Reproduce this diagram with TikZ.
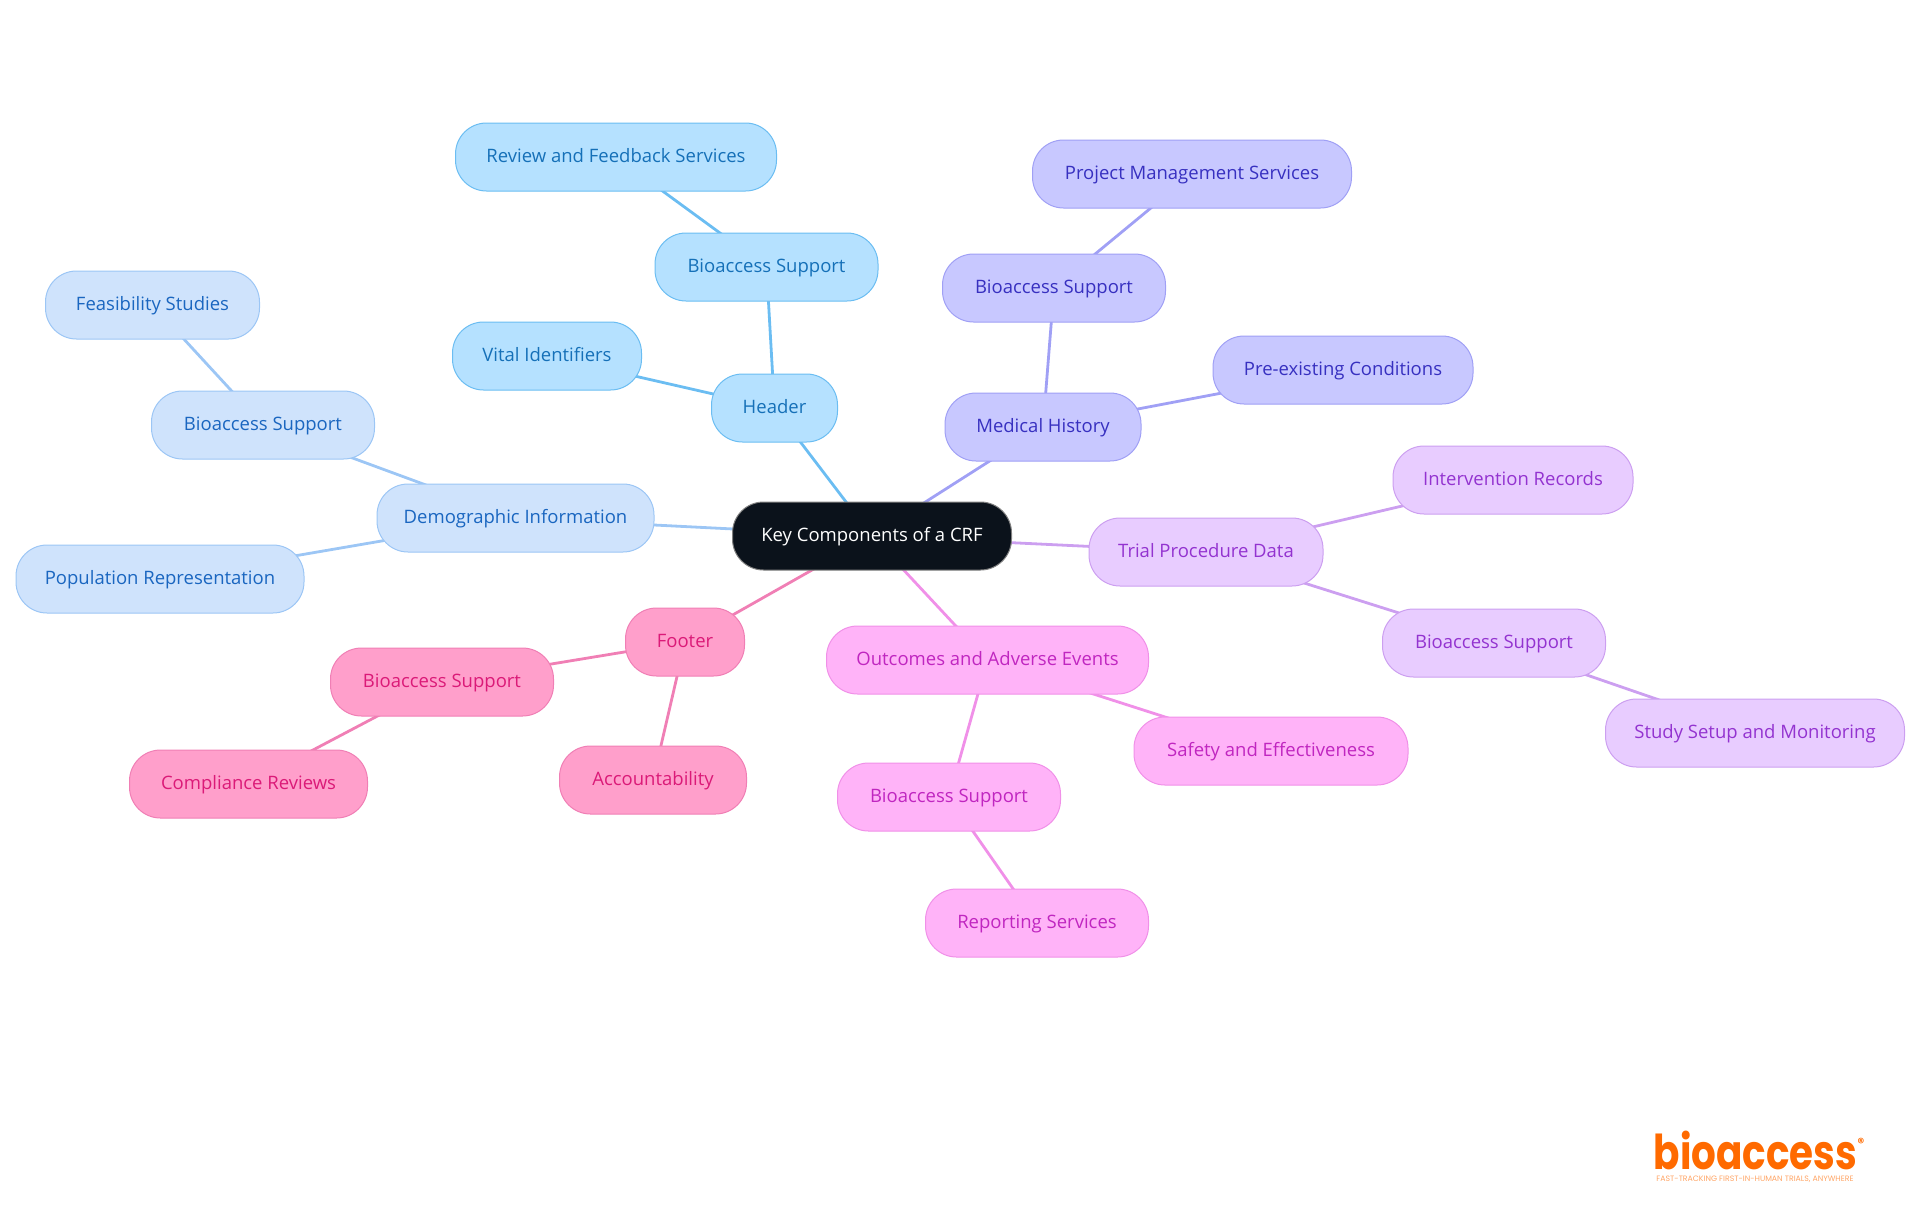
\documentclass[tikz,border=0pt]{standalone}
\usepackage{fontspec}
\usetikzlibrary{backgrounds}
\setmainfont{Open Sans}
\newfontfamily\logofont{Poppins}
\definecolor{rootfill}{HTML}{0B121B}
\definecolor{headfill}{HTML}{B5E1FF}
\definecolor{headline}{HTML}{6BBDF2}
\definecolor{headtext}{HTML}{1570B8}
\definecolor{demofill}{HTML}{CFE3FC}
\definecolor{demoline}{HTML}{9CC6F5}
\definecolor{demotext}{HTML}{1A66C0}
\definecolor{medfill}{HTML}{C8C8FF}
\definecolor{medline}{HTML}{A0A0F5}
\definecolor{medtext}{HTML}{3730C0}
\definecolor{trialfill}{HTML}{E8CCFF}
\definecolor{trialline}{HTML}{CC9FF0}
\definecolor{trialtext}{HTML}{9333D0}
\definecolor{eventfill}{HTML}{FFB3F8}
\definecolor{eventline}{HTML}{F090E8}
\definecolor{eventtext}{HTML}{C026C0}
\definecolor{footfill}{HTML}{FF9FCB}
\definecolor{footline}{HTML}{F07FB5}
\definecolor{foottext}{HTML}{DB1A78}
\definecolor{logoorange}{HTML}{FF6A00}
\tikzset{
  box/.style={rounded corners=15.5pt,minimum height=34pt,inner sep=0pt,line width=0.5pt,text height=7pt,text depth=2pt,font=\fontsize{9.25}{11}\selectfont},
  wide/.style={minimum width=#1*0.5pt},
  headbox/.style={box,draw=headline,fill=headfill,text=headtext},
  demobox/.style={box,draw=demoline,fill=demofill,text=demotext},
  medbox/.style={box,draw=medline,fill=medfill,text=medtext},
  trialbox/.style={box,draw=trialline,fill=trialfill,text=trialtext},
  eventbox/.style={box,draw=eventline,fill=eventfill,text=eventtext},
  footbox/.style={box,draw=footline,fill=footfill,text=foottext},
  branch/.style={line width=1.4pt},
}
\begin{document}
\begin{tikzpicture}[x=0.5pt,y=-0.5pt]
\useasboundingbox (0,0) rectangle (1920,1215);

\node[box,wide=279,fill=rootfill,draw=gray,text=white](Root) at (872,536){Key Components of a CRF};

\node[headbox,wide=126](Header) at (774.5,408){Header};
\node[headbox,wide=223](HeadBio) at (766.5,267){Bioaccess Support};
\node[headbox,wide=321](Review) at (616,157){Review and Feedback Services};
\node[headbox,wide=189](Vital) at (547,356){Vital Identifiers};

\node[demobox,wide=277](Demo) at (515.5,518){Demographic Information};
\node[demobox,wide=223](DemoBio) at (263,425){Bioaccess Support};
\node[demobox,wide=214](Feas) at (152.5,305){Feasibility Studies};
\node[demobox,wide=288](Popul) at (160,579){Population Representation};

\node[medbox,wide=196](Medical) at (1043,427){Medical History};
\node[medbox,wide=223](MedBio) at (1054,288){Bioaccess Support};
\node[medbox,wide=319](Project) at (1192,174){Project Management Services};
\node[medbox,wide=260](Exist) at (1343,370){Pre-existing Conditions};

\node[trialbox,wide=234](Trial) at (1206,552){Trial Procedure Data};
\node[trialbox,wide=240](Interv) at (1513,480){Intervention Records};
\node[trialbox,wide=223](TrialBio) at (1494,643){Bioaccess Support};
\node[trialbox,wide=299](Study) at (1755,733){Study Setup and Monitoring};

\node[eventbox,wide=322](Outcome) at (987.5,660){Outcomes and Adverse Events};
\node[eventbox,wide=274](Safety) at (1271,751){Safety and Effectiveness};
\node[eventbox,wide=223](OutBio) at (949,797){Bioaccess Support};
\node[eventbox,wide=223](Report) at (1037,923){Reporting Services};

\node[footbox,wide=119](Footer) at (685,642){Footer};
\node[footbox,wide=223](FootBio) at (442,682){Bioaccess Support};
\node[footbox,wide=238](Compl) at (248.5,784){Compliance Reviews};
\node[footbox,wide=187](Account) at (653,780){Accountability};

% branches, behind the boxes
\begin{pgfonlayer}{background}
\draw[branch,headline] (Root.center)--(Header.center);
\draw[branch,headline] (Header.center)--(HeadBio.center);
\draw[branch,headline] (HeadBio.center)--(Review.center);
\draw[branch,headline] (Header.center)--(Vital.center);

\draw[branch,demoline] (Root.center)--(Demo.center);
\draw[branch,demoline] (Demo.center)--(DemoBio.center);
\draw[branch,demoline] (DemoBio.center)--(Feas.center);
\draw[branch,demoline] (Demo.center)--(Popul.center);

\draw[branch,medline] (Root.center)--(Medical.center);
\draw[branch,medline] (Medical.center)--(MedBio.center);
\draw[branch,medline] (MedBio.center)--(Project.center);
\draw[branch,medline] (Medical.center)--(Exist.center);

\draw[branch,trialline] (Root.center)--(Trial.center);
\draw[branch,trialline] (Trial.center)--(Interv.center);
\draw[branch,trialline] (Trial.center)--(TrialBio.center);
\draw[branch,trialline] (TrialBio.center)--(Study.center);

\draw[branch,eventline] (Root.center)--(Outcome.center);
\draw[branch,eventline] (Outcome.center)--(Safety.center);
\draw[branch,eventline] (Outcome.center)--(OutBio.center);
\draw[branch,eventline] (OutBio.center)--(Report.center);

\draw[branch,footline] (Root.center)--(Footer.center);
\draw[branch,footline] (Footer.center)--(FootBio.center);
\draw[branch,footline] (FootBio.center)--(Compl.center);
\draw[branch,footline] (Footer.center)--(Account.center);
\end{pgfonlayer}

% logo
\node[inner sep=0pt,transform shape,xscale=0.81,text=logoorange,font=\logofont\bfseries\fontsize{24}{24}\selectfont](Logo) at (1755.5,1150){bioaccess};
\node[inner sep=0pt,text=logoorange,font=\logofont\bfseries\fontsize{6.5}{6.5}\selectfont](Mark) at (1861,1143){\textregistered};
\node[inner sep=0pt,text=logoorange!60,font=\logofont\fontsize{3.9}{4}\selectfont](Tag) at (1755,1179){FAST-TRACKING FIRST-IN-HUMAN TRIALS, ANYWHERE};
\end{tikzpicture}
\end{document}
